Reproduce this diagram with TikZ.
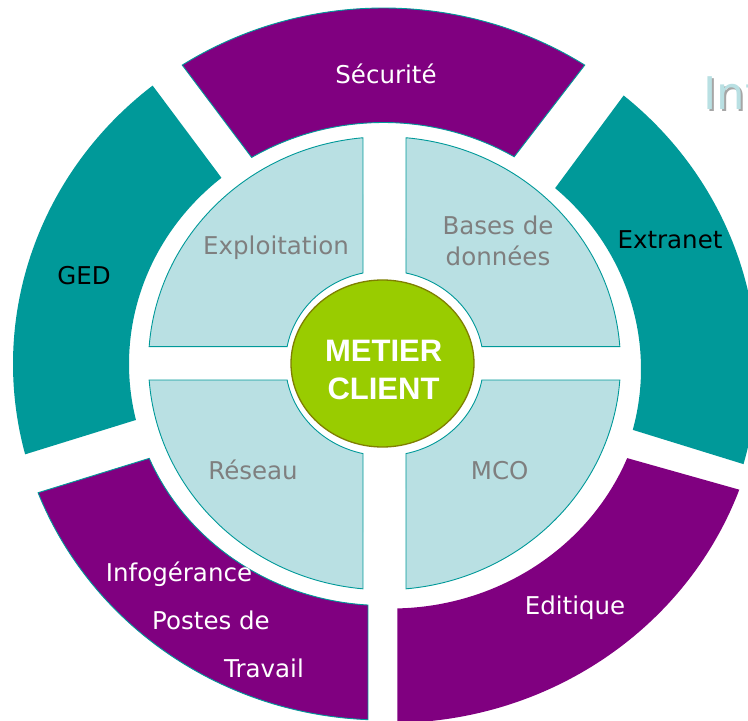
\documentclass[tikz,border=0pt]{standalone}
\usepackage{fontspec}
\setmainfont{DejaVu Sans}
\newfontfamily\arialfont{Liberation Sans}
\usetikzlibrary{calc,shapes.geometric}
\definecolor{purp}{HTML}{800080}
\definecolor{tealc}{HTML}{009999}
\definecolor{qblue}{HTML}{B9E0E3}
\definecolor{grn}{HTML}{99CC00}
\definecolor{olivec}{HTML}{7F7F00}
\definecolor{greytxt}{HTML}{7F7F7F}
\definecolor{shadowc}{HTML}{A6A6A6}
\tikzset{
  seglabel/.style={anchor=base, inner sep=0pt, font=\fontsize{24.5}{29}\selectfont},
  quadlabel/.style={anchor=base, inner sep=0pt, text=greytxt, font=\fontsize{24.5}{29}\selectfont},
  quadbox/.style={fill=qblue, draw=tealc, line width=0.9pt},
  purpseg/.style={fill=purp, draw=tealc, line width=0.9pt},
  tealseg/.style={fill=tealc},
}
% outer ring segment: #1 center, #2 outer start, #3 outer end, #4 inner start, #5 inner end
\newcommand{\ringseg}[6]{%
  \path[#6, shift={#1}] (#2:370.5 and 356) arc[start angle=#2, end angle=#3, x radius=370.5, y radius=356]
    -- (#4:254.5 and 241.5) arc[start angle=#4, end angle=#5, x radius=254.5, y radius=241.5] -- cycle;}
% inner quadrant
\newcommand{\quadseg}[4]{%
  \path[quadbox, shift={(384.5,357.7)}] (#1:236 and 226.5) arc[start angle=#1, end angle=#2, x radius=236, y radius=226.5]
    -- (#3:99 and 92.5) arc[start angle=#3, end angle=#4, x radius=99, y radius=92.5] -- cycle;}
\begin{document}
\begin{tikzpicture}[x=1pt,y=1pt]
\useasboundingbox (0,0) rectangle (748,721);
\clip (0,0) rectangle (748,721);
\fill[white] (0,0) rectangle (748,721);
% title fragment
\node[anchor=base west, inner sep=0pt, text=shadowc, font=\fontsize{45}{50}\selectfont] (titleshadow) at (705,609) {Int};
\node[anchor=base west, inner sep=0pt, text=qblue, font=\fontsize{45}{50}\selectfont] (title) at (703,611) {Int};
% outer ring
\ringseg{(383.5,357)}{57.1}{122.9}{121.2}{59.1}{purpseg}
\ringseg{(383.5,357)}{128.55}{194.7}{193.4}{129.55}{tealseg}
\ringseg{(383.5,357)}{201.2}{267.6}{266.5}{203.0}{purpseg}
\ringseg{(391.5,354)}{270.9}{339.84}{337.83}{271.3}{fill=purp}
\ringseg{(386.5,352)}{-15.5}{50.2}{48.5}{-14.6}{tealseg}
% inner quadrants
\quadseg{95.23}{175.76}{169.57}{102.54}
\quadseg{4.24}{84.77}{77.46}{10.43}
\quadseg{184.24}{264.77}{257.46}{190.43}
\quadseg{275.23}{355.76}{349.57}{282.54}
% centre
\node[ellipse, minimum width=183pt, minimum height=167pt, fill=grn, draw=olivec, line width=1.3pt, inner sep=0pt] (centre) at (382.5,357.5) {};
\node[anchor=base, inner sep=0pt, text=white, font=\arialfont\bfseries\fontsize{31}{36}\selectfont] (metier) at (383.7,359.3) {METIER};
\node[anchor=base, inner sep=0pt, text=white, font=\arialfont\bfseries\fontsize{31}{36}\selectfont] (client) at (383.5,321.7) {CLIENT};
% labels outer
\node[seglabel, text=white] (secu) at (386,637.7) {Sécurité};
\node[seglabel, text=black] (ged) at (84,436.7) {GED};
\node[seglabel, text=black] (extra) at (670,472.7) {Extranet};
\node[seglabel, text=white] (edit) at (575,106) {Editique};
\node[seglabel, text=white] (info1) at (179,139.3) {Infogérance};
\node[seglabel, text=white] (info2) at (211,91) {Postes de};
\node[seglabel, text=white] (info3) at (264,43.7) {Travail};
% labels quadrants
\node[quadlabel] (expl) at (276,466) {Exploitation};
\node[quadlabel] (bases1) at (498,486) {Bases de};
\node[quadlabel] (bases2) at (498,455) {données};
\node[quadlabel] (reseau) at (253,241) {Réseau};
\node[quadlabel] (mco) at (499.7,241.7) {MCO};
\end{tikzpicture}
\end{document}
